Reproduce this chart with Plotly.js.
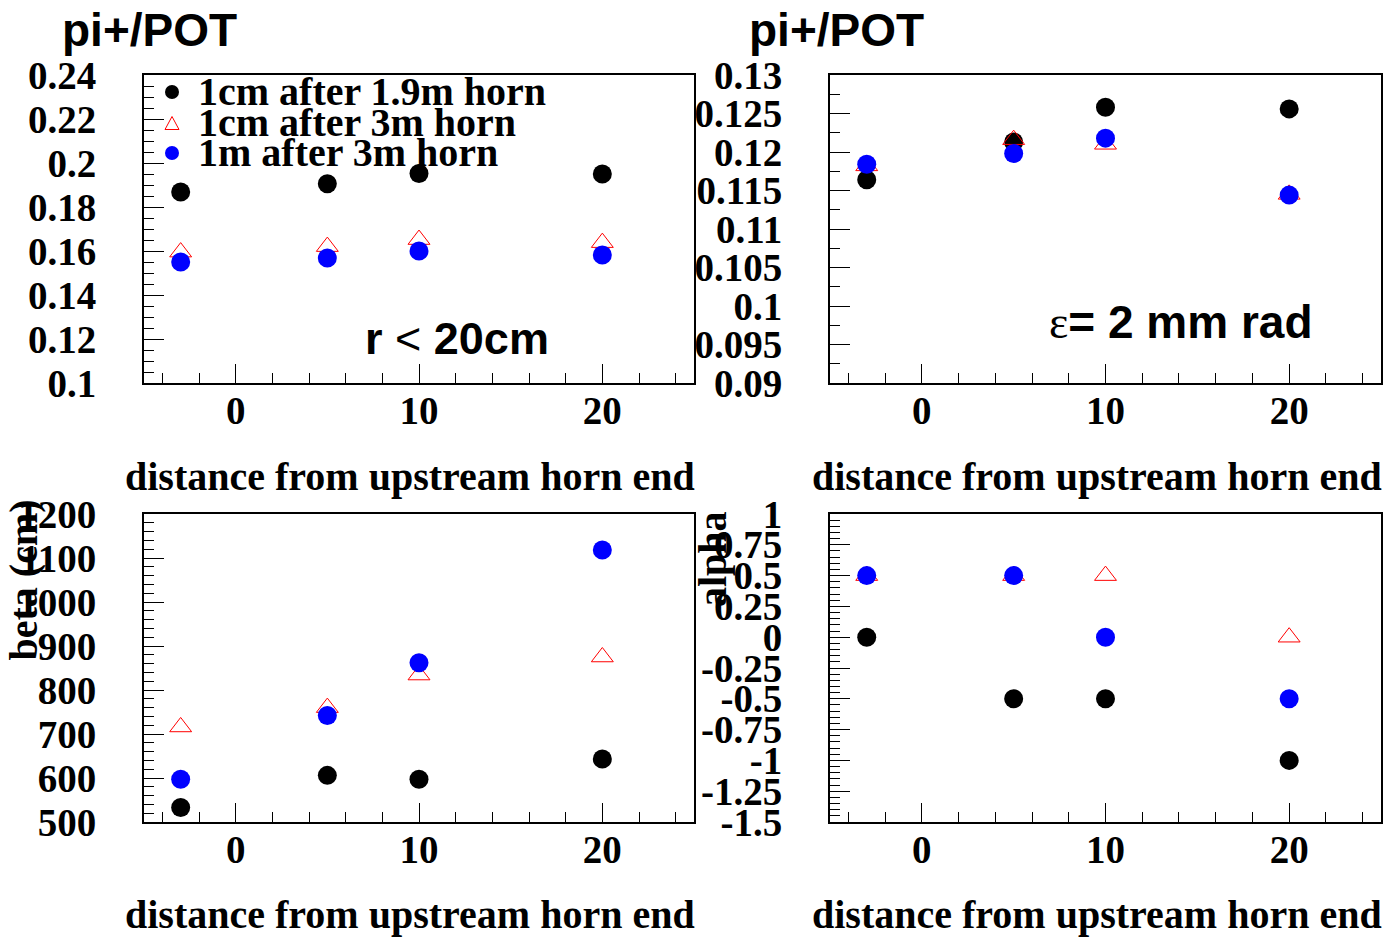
<!DOCTYPE html>
<html><head><meta charset="utf-8">
<script src="https://cdn.plot.ly/plotly-3.0.1.min.js"></script>
<style>html,body{margin:0;padding:0;background:#fff}</style>
</head><body>
<div id="chart" style="width:1383px;height:937px"></div>
<script>
// ---------------- data ----------------
const distances = [-3, 5, 10, 20];
const seriesNames = ["1cm after 1.9m horn", "1cm after 3m horn", "1m after 3m horn"];

// pi+/POT, r < 20cm
const pionR20_19m  = [0.1868, 0.1906, 0.1952, 0.1950];
const pionR20_3m   = [0.1595, 0.1620, 0.1652, 0.1638];
const pionR20_1m3m = [0.1550, 0.1568, 0.1600, 0.1582];

// pi+/POT, emittance 2 mm rad
const pionEps_19m  = [0.1164, 0.1213, 0.1258, 0.1256];
const pionEps_3m   = [0.1182, 0.1216, 0.1210, 0.1145];
const pionEps_1m3m = [0.1184, 0.1198, 0.1218, 0.1144];

// beta (cm)
const beta_19m  = [533, 606, 597, 643];
const beta_3m   = [716, 760, 834, 875];
const beta_1m3m = [597, 742, 862, 1118];

// alpha
const alpha_19m  = [0, -0.5, -0.5, -1];
const alpha_3m   = [0.5, 0.5, 0.5, 0];
const alpha_1m3m = [0.5, 0.5, 0, -0.5];

// tick labels
const xTickVals = [0, 10, 20];
const xTickText = ["0", "10", "20"];
const yTickValsA = [0.1, 0.12, 0.14, 0.16, 0.18, 0.2, 0.22, 0.24];
const yTickTextA = ["0.1", "0.12", "0.14", "0.16", "0.18", "0.2", "0.22", "0.24"];
const yTickValsB = [0.09, 0.095, 0.1, 0.105, 0.11, 0.115, 0.12, 0.125, 0.13];
const yTickTextB = ["0.09", "0.095", "0.1", "0.105", "0.11", "0.115", "0.12", "0.125", "0.13"];
const yTickValsC = [500, 600, 700, 800, 900, 1000, 1100, 1200];
const yTickTextC = ["500", "600", "700", "800", "900", "1000", "1100", "1200"];
const yTickValsD = [-1.5, -1.25, -1, -0.75, -0.5, -0.25, 0, 0.25, 0.5, 0.75, 1];
const yTickTextD = ["-1.5", "-1.25", "-1", "-0.75", "-0.5", "-0.25", "0", "0.25", "0.5", "0.75", "1"];

// ---------------- layout helpers ----------------
const W = 1383, H = 937;
const px = x => x / W;
const py = y => 1 - y / H;

const serif = "Liberation Serif, Times New Roman, serif";
const sans = "Liberation Sans, Arial, sans-serif";

const styles = [
  {type: 'scatter', mode: 'markers', marker: {symbol: 'circle', size: 19, color: '#000000'}},
  {type: 'scatter', mode: 'markers', marker: {symbol: 'triangle-up-open', size: 19, color: '#ff0000', line: {width: 1, color: '#ff0000'}}},
  {type: 'scatter', mode: 'markers', marker: {symbol: 'circle', size: 19, color: '#0000ff'}}
];

function panel(ys, xa, ya) {
  return ys.map((y, i) => Object.assign({}, styles[i], {
    x: distances, y: y, xaxis: xa, yaxis: ya, name: seriesNames[i], showlegend: false,
    marker: Object.assign({}, styles[i].marker)
  }));
}

const data = [
  ...panel([pionR20_19m, pionR20_3m, pionR20_1m3m], 'x', 'y'),
  ...panel([pionEps_19m, pionEps_3m, pionEps_1m3m], 'x2', 'y2'),
  ...panel([beta_19m, beta_3m, beta_1m3m], 'x3', 'y3'),
  ...panel([alpha_19m, alpha_3m, alpha_1m3m], 'x4', 'y4')
];

const tickFont = {family: serif, size: 39, weight: 'bold', color: '#000'};

function xAxis(domain, anchor) {
  return {
    domain: domain, anchor: anchor, range: [-5, 25],
    showline: true, linecolor: '#000', linewidth: 2, mirror: true,
    showgrid: false, zeroline: false,
    tickmode: 'array', tickvals: xTickVals, ticktext: xTickText,
    ticks: 'inside', ticklen: 19, tickwidth: 1, tickcolor: '#000',
    minor: {ticks: 'inside', tick0: 0, dtick: 2, ticklen: 10, tickwidth: 1, tickcolor: '#000', showgrid: false},
    tickfont: tickFont, ticklabelstandoff: -8, fixedrange: true
  };
}
function yAxis(domain, anchor, range, vals, text, minorDtick, tick0) {
  return {
    domain: domain, anchor: anchor, range: range,
    showline: true, linecolor: '#000', linewidth: 2, mirror: true,
    showgrid: false, zeroline: false,
    tickmode: 'array', tickvals: vals, ticktext: text,
    ticks: 'inside', ticklen: 20, tickwidth: 1, tickcolor: '#000',
    minor: {ticks: 'inside', tick0: tick0, dtick: minorDtick, ticklen: 10, tickwidth: 1, tickcolor: '#000', showgrid: false},
    tickfont: tickFont, ticklabelstandoff: 38, fixedrange: true
  };
}

const colL = [px(144), px(694)];
const colR = [px(830), px(1381)];
const rowT = [py(383), py(75)];
const rowB = [py(822), py(514)];

// legend symbols (pixel positions)
const legX = 172, legY = [92, 123, 153];
const r = 7;
function circ(cx, cy, col) {
  return {type: 'circle', xref: 'paper', yref: 'paper',
    x0: px(cx - r), x1: px(cx + r), y0: py(cy + r), y1: py(cy - r),
    fillcolor: col, line: {width: 0}};
}
const triPath = (cx, cy) => {
  const h = 13, w = 14;
  return `M ${px(cx - w/2)} ${py(cy + h/2)} L ${px(cx + w/2)} ${py(cy + h/2)} L ${px(cx)} ${py(cy - h/2)} Z`;
};

const shapes = [
  circ(legX, legY[0], '#000000'),
  {type: 'path', xref: 'paper', yref: 'paper', path: triPath(legX, legY[1]), line: {color: '#ff0000', width: 1}, fillcolor: 'rgba(0,0,0,0)'},
  circ(legX, legY[2], '#0000ff')
];

const ann = (o) => Object.assign({xref: 'paper', yref: 'paper', showarrow: false}, o);
const titleFont = {family: serif, size: 40, weight: 'bold', color: '#000'};

const annotations = [
  ann({x: px(60), y: py(30), xanchor: 'left', yanchor: 'middle', text: 'pi+/POT', font: {family: sans, size: 46, weight: 'bold', color: '#000'}}),
  ann({x: px(747), y: py(30), xanchor: 'left', yanchor: 'middle', text: 'pi+/POT', font: {family: sans, size: 46, weight: 'bold', color: '#000'}}),
  ann({x: px(196), y: py(legY[0]), xanchor: 'left', yanchor: 'middle', text: seriesNames[0], font: titleFont}),
  ann({x: px(196), y: py(legY[1]), xanchor: 'left', yanchor: 'middle', text: seriesNames[1], font: titleFont}),
  ann({x: px(196), y: py(legY[2]), xanchor: 'left', yanchor: 'middle', text: seriesNames[2], font: titleFont}),
  ann({x: px(363), y: py(338), xanchor: 'left', yanchor: 'middle',
       text: 'r <span style="font-weight:normal">&lt;</span> 20cm', font: {family: sans, size: 45, weight: 'bold', color: '#000'}}),
  ann({x: px(1047), y: py(322), xanchor: 'left', yanchor: 'middle',
       text: '<span style="font-family:Liberation Serif;font-weight:normal">ε</span>= 2 mm rad', font: {family: sans, size: 46, weight: 'bold', color: '#000'}}),
  ann({x: px(697), y: py(476), xanchor: 'right', yanchor: 'middle', text: 'distance from upstream horn end', font: titleFont}),
  ann({x: px(1384), y: py(476), xanchor: 'right', yanchor: 'middle', text: 'distance from upstream horn end', font: titleFont}),
  ann({x: px(697), y: py(914), xanchor: 'right', yanchor: 'middle', text: 'distance from upstream horn end', font: titleFont}),
  ann({x: px(1384), y: py(914), xanchor: 'right', yanchor: 'middle', text: 'distance from upstream horn end', font: titleFont}),
  ann({x: px(23), y: py(498), xanchor: 'center', yanchor: 'top', textangle: -90, text: 'beta (cm)', font: titleFont}),
  ann({x: px(712), y: py(509), xanchor: 'center', yanchor: 'top', textangle: -90, text: 'alpha', font: titleFont})
];

const layout = {
  width: W, height: H,
  margin: {l: 0, r: 0, t: 0, b: 0, pad: 0},
  paper_bgcolor: '#fff', plot_bgcolor: '#fff',
  showlegend: false,
  xaxis: xAxis(colL, 'y'),
  yaxis: yAxis(rowT, 'x', [0.1, 0.24], yTickValsA, yTickTextA, 0.005, 0.1),
  xaxis2: xAxis(colR, 'y2'),
  yaxis2: yAxis(rowT, 'x2', [0.09, 0.13], yTickValsB, yTickTextB, 0.0025, 0.09),
  xaxis3: xAxis(colL, 'y3'),
  yaxis3: yAxis(rowB, 'x3', [500, 1200], yTickValsC, yTickTextC, 20, 500),
  xaxis4: xAxis(colR, 'y4'),
  yaxis4: yAxis(rowB, 'x4', [-1.5, 1], yTickValsD, yTickTextD, 0.05, -1.5),
  shapes: shapes,
  annotations: annotations
};

Plotly.newPlot('chart', data, layout, {staticPlot: true, displayModeBar: false});
</script>
</body></html>
